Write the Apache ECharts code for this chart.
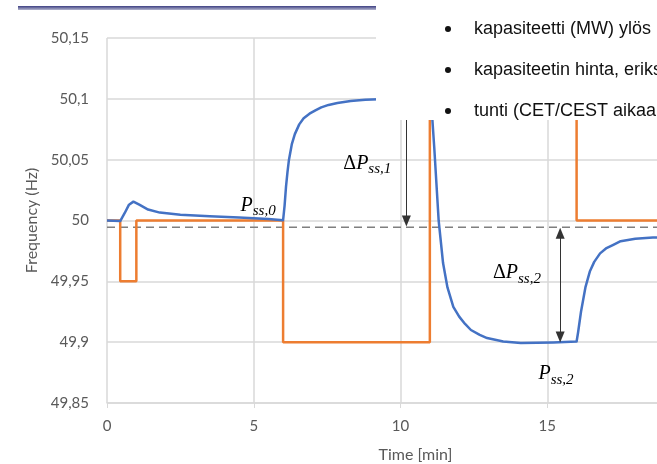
<!DOCTYPE html>
<html>
<head>
<meta charset="utf-8">
<script src="https://cdn.jsdelivr.net/npm/echarts@6/dist/echarts.min.js"></script>
<style>
html, body { margin: 0; padding: 0; background: #fff; }
#chart { width: 657px; height: 464px; }
</style>
</head>
<body>
<div id="chart"></div>
<script>
// taajuus (Hz) ajan funktiona (min)
var blueTime = [0, 0.45, 0.6, 0.75, 0.9, 1.1, 1.4, 1.8, 2.5, 3.5, 4.5, 5.5, 6.0,
  6.05, 6.1, 6.15, 6.2, 6.3, 6.4, 6.55, 6.7, 6.9, 7.1, 7.3, 7.55, 7.85, 8.3, 8.8, 9.5, 10, 11,
  11.08, 11.15, 11.3, 11.45, 11.6, 11.8, 12.0, 12.2, 12.4, 12.7, 12.95, 13.5, 14.1, 15.2, 16.0,
  16.05, 16.15, 16.3, 16.45, 16.6, 16.8, 17.0, 17.25, 17.5, 18.0, 18.6, 20];
var blueFreq = [50.0, 49.9995, 50.006, 50.013, 50.0155, 50.013, 50.009, 50.0065, 50.0048, 50.0035, 50.0025, 50.0012, 50.0003,
  50.012, 50.028, 50.04, 50.05, 50.063, 50.071, 50.079, 50.084, 50.0878, 50.0905, 50.093, 50.095, 50.0966, 50.0982, 50.0992, 50.0998, 50.1, 50.1,
  50.085, 50.06, 50.0, 49.965, 49.945, 49.929, 49.921, 49.915, 49.910, 49.906, 49.9034, 49.9005, 49.8993, 49.8998, 49.9005,
  49.908, 49.925, 49.945, 49.958, 49.966, 49.973, 49.977, 49.980, 49.983, 49.985, 49.986, 49.987];

// porrasmainen ohjaussignaali
var orangeTime = [0, 0.45, 0.45, 1.0, 1.0, 6.0, 6.0, 11.0, 11.0, 16.0, 16.0, 20];
var orangeVal = [50, 50, 49.95, 49.95, 50, 50, 49.9, 49.9, 50.1, 50.1, 50, 50];

var refLevel = 49.9945;
var xTicks = [0, 5, 10, 15, 20];
var yTicks = [49.85, 49.9, 49.95, 50, 50.05, 50.1, 50.15];

var bullets = ['kapasiteetti (MW) ylös', 'kapasiteetin hinta, eriks', 'tunti (CET/CEST aikaa'];

function zip(a, b) {
  return a.map(function (v, i) { return [v, b[i]]; });
}

var gridColor = '#d9d9d9';
var textColor = '#595959';
var serif = '"Liberation Serif", "DejaVu Serif", serif';

var myChart = echarts.init(document.getElementById('chart'));
var option = {
  animation: false,
  grid: { left: 107, top: 38, width: 587, height: 365, outerBoundsMode: 'none', containLabel: false },
  xAxis: {
    type: 'value',
    min: xTicks[0],
    max: xTicks[xTicks.length - 1],
    interval: 5,
    name: 'Time [min]',
    nameLocation: 'middle',
    nameGap: 44,
    nameTextStyle: { color: textColor, fontFamily: 'Lato', fontSize: 16, padding: [0, 0, 0, 30] },
    axisLine: { lineStyle: { color: gridColor, width: 1.5 } },
    axisTick: { show: true, length: 5, lineStyle: { color: gridColor } },
    axisLabel: { color: textColor, fontFamily: 'Lato', fontSize: 15, margin: 16 },
    splitLine: { show: true, lineStyle: { color: gridColor, width: 1.5 } }
  },
  yAxis: {
    type: 'value',
    min: yTicks[0],
    max: yTicks[yTicks.length - 1],
    interval: 0.05,
    name: 'Frequency (Hz)',
    nameLocation: 'middle',
    nameGap: 66,
    nameTextStyle: { color: textColor, fontFamily: 'Lato', fontSize: 16 },
    axisLine: { show: false },
    axisTick: { show: false },
    axisLabel: {
      color: textColor, fontFamily: 'Lato', fontSize: 15, margin: 18,
      formatter: function (v) { return String(parseFloat(v.toFixed(2))).replace('.', ','); }
    },
    splitLine: { show: true, lineStyle: { color: gridColor, width: 1.5 } }
  },
  series: [
    {
      type: 'line',
      data: [[xTicks[0], refLevel], [xTicks[xTicks.length - 1], refLevel]],
      symbol: 'none',
      lineStyle: { color: '#7f7f7f', width: 1.5, type: [8, 5] },
      z: 1,
      markLine: {
        silent: true,
        symbol: ['none', 'triangle'],
        symbolSize: [9, 11],
        label: { show: false },
        lineStyle: { color: '#333', width: 1, type: 'solid' },
        data: [
          [{ coord: [10.2, 50.1] }, { coord: [10.2, 49.9995] }],
          [{ coord: [15.44, 49.9895], symbol: 'triangle' }, { coord: [15.44, 49.9043] }]
        ]
      }
    },
    {
      type: 'line',
      data: zip(orangeTime, orangeVal),
      symbol: 'none',
      lineStyle: { color: '#ED7D31', width: 2.5 },
      z: 2
    },
    {
      type: 'line',
      data: zip(blueTime, blueFreq),
      symbol: 'none',
      lineStyle: { color: '#4472C4', width: 2.5, join: 'round' },
      z: 3
    }
  ]
};
myChart.setOption(option);

// merkinnät
function px(t, f) { return myChart.convertToPixel({ gridIndex: 0 }, [t, f]); }
var richStyle = {
  d: { fontFamily: serif, fontSize: 20, color: '#1a1a1a', lineHeight: 27, verticalAlign: 'middle' },
  p: { fontFamily: serif, fontStyle: 'italic', fontSize: 20, color: '#1a1a1a', lineHeight: 27, verticalAlign: 'middle' },
  s: { fontFamily: serif, fontStyle: 'italic', fontSize: 15, color: '#1a1a1a', lineHeight: 15, verticalAlign: 'bottom' }
};
var notes = [
  { text: '{p|P}{s|ss,0}', t: 4.55, f: 50.0125 },
  { text: '{d|Δ}{p|P}{s|ss,1}', t: 8.05, f: 50.047 },
  { text: '{d|Δ}{p|P}{s|ss,2}', t: 13.15, f: 49.957 },
  { text: '{p|P}{s|ss,2}', t: 14.7, f: 49.874 }
];
var graphics = notes.map(function (n) {
  var p = px(n.t, n.f);
  return {
    type: 'text', x: p[0], y: p[1], z: 50,
    style: { text: n.text, rich: richStyle, verticalAlign: 'middle', align: 'left' }
  };
});

// dian yläreuna ja valkoinen tekstilaatikko
graphics.push({
  type: 'rect', z: 90, shape: { x: 18, y: 6, width: 358, height: 4 },
  style: { fill: new echarts.graphic.LinearGradient(0, 0, 0, 1, [
    { offset: 0, color: '#3d3f82' }, { offset: 1, color: '#b4b6cf' }]) }
});
graphics.push({
  type: 'rect', z: 100, shape: { x: 376, y: 0, width: 281, height: 120 },
  style: { fill: '#fff' }
});
bullets.forEach(function (b, i) {
  var y = 28 + i * 41;
  graphics.push({ type: 'circle', z: 101, shape: { cx: 448, cy: y + 1, r: 3 }, style: { fill: '#111' } });
  graphics.push({
    type: 'text', z: 101, x: 474, y: y + 1,
    style: { text: b, fill: '#111', fontFamily: '"Liberation Sans", Arial, sans-serif', fontSize: 18, verticalAlign: 'middle' }
  });
});
myChart.setOption({ graphic: graphics });
</script>
</body>
</html>
